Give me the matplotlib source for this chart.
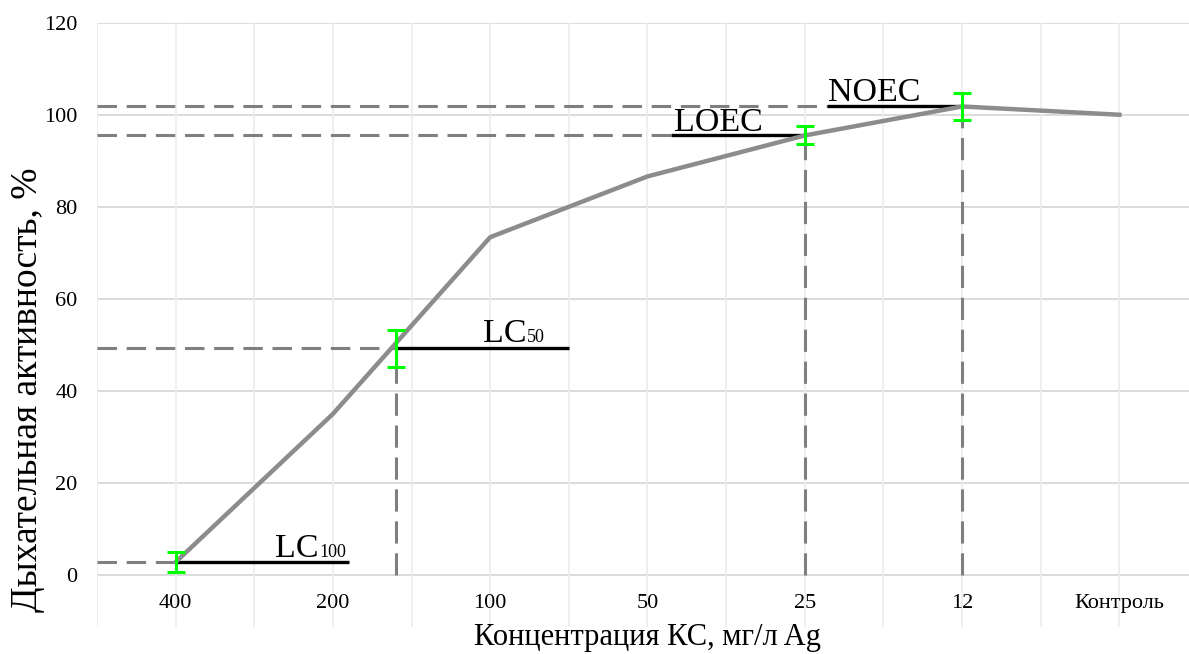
import matplotlib
matplotlib.use("Agg")
import matplotlib.pyplot as plt
import numpy as np

plt.rcParams['font.family'] = ['Liberation Serif', 'DejaVu Serif']
plt.rcParams['lines.scale_dashes'] = False

# ---- data ----
categories = ["400", "200", "100", "50", "25", "12", "Контроль"]
activity = [2.8, 35.0, 73.4, 86.6, 95.5, 101.8, 100.0]

# threshold markers
thr_names = ["LC", "LC", "LOEC", "NOEC"]
thr_subs = ["100", "50", "", ""]
thr_x = [0.0, 1.40, 4.0, 5.0]          # position in category units
thr_y = [2.8, 49.3, 95.6, 101.8]
thr_err = [2.1, 4.0, 2.0, 2.9]

yticks = [0, 20, 40, 60, 80, 100, 120]
xlabel = "Концентрация КС, мг/л Ag"
ylabel = "Дыхательная активность, %"

W, H = 1189, 654
fig = plt.figure(figsize=(W / 100, H / 100), dpi=100)
ax_l, ax_r, ax_t, ax_b = 97, 1198, 22.7, 627
ax = fig.add_axes([ax_l / W, 1 - ax_b / H, (ax_r - ax_l) / W, (ax_b - ax_t) / H])

x = np.arange(len(categories))
ax.set_xlim(-0.5, len(categories) - 0.5)
ax.set_ylim(-11.3, 120)

# grid
for yv in yticks:
    ax.axhline(yv, color="#d9d9d9", lw=1.3, zorder=0)
for xv in np.arange(-0.5, len(categories), 0.5):
    ax.axvline(xv, color="#ececec", lw=1.2, zorder=0)

for s in ax.spines.values():
    s.set_visible(False)
ax.set_xticks([])
ax.set_yticks(yticks)
ax.tick_params(axis="y", length=0, pad=14, labelsize=16)

for xi, lab in zip(x, categories):
    ax.text(xi, -6.1, lab, ha="center", va="center", fontsize=16)

# reference lines
dash_color = "#7f7f7f"
black_start = [0.0, 1.40, 3.15, 4.14]
black_end = [1.10, 2.50, 4.0, 5.0]
for i in range(len(thr_names)):
    ax.plot([-0.5, black_start[i]], [thr_y[i], thr_y[i]], color=dash_color,
            lw=2.2, ls=(0, (14, 7)), zorder=2)
    ax.plot([black_start[i], black_end[i]], [thr_y[i], thr_y[i]], color="black",
            lw=2.4, zorder=3, solid_capstyle="butt")
    if i > 0:
        ax.plot([thr_x[i], thr_x[i]], [0, thr_y[i]], color=dash_color,
                lw=2.2, ls=(0, (16, 7)), zorder=2)

# main line
ax.plot(x, activity, color="#8c8c8c", lw=3.2, zorder=4)

# error bars
ax.errorbar(thr_x, thr_y, yerr=thr_err, fmt="none", ecolor="#00ff00",
            elinewidth=2.2, capsize=6.5, capthick=2.2, zorder=5)

# threshold labels
lab_pos = [(0.911, 3.9), (2.23, 50.6), (3.166, 96.5), (4.146, 102.9)]
for i, (lx, ly) in enumerate(lab_pos):
    if thr_subs[i]:
        ax.text(lx, ly, thr_names[i], ha="right", va="baseline", fontsize=24.5, zorder=6)
        ax.text(lx, ly, thr_subs[i], ha="left", va="baseline", fontsize=13, zorder=6)
    else:
        ax.text(lx, ly, thr_names[i], ha="left", va="baseline", fontsize=24.5, zorder=6)

fig.text(648 / W, 1 - 637 / H, xlabel, ha="center", va="center", fontsize=22)
fig.text(28 / W, 1 - 390 / H, ylabel, ha="center", va="center", fontsize=27, rotation=90)

fig.savefig("out.png", dpi=100, facecolor="white")
